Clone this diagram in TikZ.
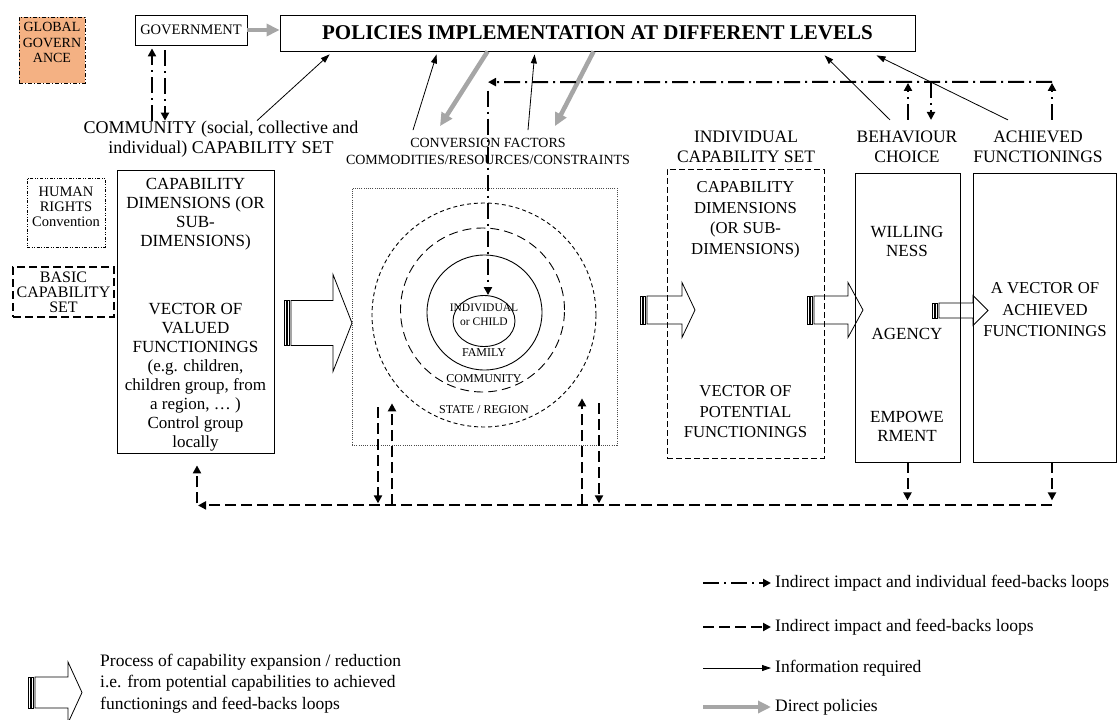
\documentclass[tikz,border=0pt]{standalone}
\usepackage{fontspec}
\setmainfont{Liberation Serif}
\usetikzlibrary{arrows.meta, positioning, shapes.geometric}
\definecolor{govorange}{HTML}{F4B183}
\definecolor{policygray}{HTML}{A6A6A6}

% striped hollow arrow: tail x, head base x, tip x, centre y, half shaft, half head
\newcommand{\capflow}[6]{%
  \draw[flow] (#1,{#4-#5}) rectangle ({#1+2},{#4+#5});
  \draw[flow] ({#1+3.5},{#4-#5}) rectangle ({#1+5.5},{#4+#5});
  \draw[flow] ({#1+7},{#4-#5}) -- (#2,{#4-#5}) -- (#2,{#4-#6}) -- (#3,#4)
    -- (#2,{#4+#6}) -- (#2,{#4+#5}) -- ({#1+7},{#4+#5}) -- cycle;
}

\begin{document}
\begin{tikzpicture}[x=1pt, y=-1pt,
  every node/.style={inner sep=0pt, align=center},
  boxframe/.style={rectangle, draw, line width=0.8pt},
  toplabel/.style={font=\fontsize{17.5}{20}\selectfont},
  boxtext/.style={font=\fontsize{17}{19}\selectfont},
  ringlabel/.style={font=\fontsize{12}{14}\selectfont},
  legendtext/.style={anchor=west, align=left, font=\fontsize{17.5}{21.5}\selectfont},
  policy/.style={draw=policygray, line width=4.5pt, -{Triangle[length=13pt,width=12pt]}},
  info/.style={line width=0.8pt, -{Triangle[length=9pt,width=6pt]}},
  indirect/.style={line width=2pt, dash pattern=on 16pt off 5pt on 2pt off 5pt, -{Triangle[length=8pt,width=8pt]}},
  feedback/.style={line width=2pt, dash pattern=on 11pt off 5pt, -{Triangle[length=8pt,width=8pt]}},
  flow/.style={draw, fill=white, line width=0.8pt, line join=miter},
  ring/.style={circle, draw, line width=0.9pt},
]
\useasboundingbox (0,0) rectangle (1117,720);

% Governance and policies
\node[boxframe, fill=govorange, line width=0.7pt, dash pattern=on 4pt off 2pt on 1pt off 2pt, minimum width=66pt, minimum height=66pt] (global) at (52,50) {};
\node[font=\fontsize{14}{15.5}\selectfont] (globaltxt) at (52,42.5) {GLOBAL\\GOVERN\\ANCE};
\node[boxframe, minimum width=112pt, minimum height=30pt, font=\fontsize{14.5}{16}\selectfont] (gov) at (191,30) {GOVERNMENT};
\node[boxframe, minimum width=635pt, minimum height=36pt, font=\bfseries\fontsize{21}{24}\selectfont] (policies) at (597.5,33) {POLICIES IMPLEMENTATION AT DIFFERENT LEVELS};
\draw[policy] (gov.east) -- (gov.east -| policies.west);

% Community
\node[font=\fontsize{18}{20}\selectfont] (community) at (221,139) {COMMUNITY (social, collective and\\individual) CAPABILITY SET};
\draw[indirect] ([xshift=-69pt]community.north) -- ([xshift=-39pt,yshift=-3pt]gov.south);
\draw[indirect] ([xshift=-26pt,yshift=-5pt]gov.south) -- ([xshift=-56pt]community.north);
\draw[info] ([xshift=36pt]community.north) -- ([xshift=50pt,yshift=-3pt]policies.south west);

% Conversion factors
\node[font=\fontsize{14}{17}\selectfont] (conversion) at (488,151.5) {CONVERSION FACTORS\\COMMODITIES/RESOURCES/CONSTRAINTS};
\draw[info] ([xshift=-75pt,yshift=8pt]conversion.north) -- ([xshift=157pt,yshift=-3pt]policies.south west);
\draw[info] ([xshift=40pt,yshift=8pt]conversion.north) -- ([xshift=255pt,yshift=-3pt]policies.south west);
\draw[policy] ([xshift=208pt]policies.south west) -- ([xshift=-48pt,yshift=12pt]conversion.north);
\draw[policy] ([xshift=314pt]policies.south west) -- ([xshift=67pt,yshift=12pt]conversion.north);

% Top labels
\node[toplabel] (indlabel) at (746,147) {INDIVIDUAL\\CAPABILITY SET};
\node[toplabel] (choice) at (907,147) {BEHAVIOUR\\CHOICE};
\node[toplabel] (achieved) at (1038,147) {ACHIEVED\\FUNCTIONINGS};
\draw[info] ([xshift=-17pt,yshift=11pt]choice.north) -- ([xshift=545pt,yshift=-4pt]policies.south west);
\draw[info] ([xshift=-30pt,yshift=11pt]achieved.north) -- ([xshift=597pt,yshift=-4pt]policies.south west);

% Left boxes
\node[boxframe, line width=0.6pt, dash pattern=on 3pt off 1.5pt on 1pt off 1.5pt on 1pt off 1.5pt, minimum width=78pt, minimum height=69pt] (rights) at (66,212.5) {};
\node[font=\fontsize{14.5}{15}\selectfont] (rightstxt) at (66,207) {HUMAN\\RIGHTS\\Convention};
\node[boxframe, line width=2.5pt, dash pattern=on 8pt off 4pt, minimum width=101pt, minimum height=50pt, font=\fontsize{16}{15}\selectfont] (basic) at (63.5,292) {BASIC\\CAPABILITY\\SET};
\node[boxframe, minimum width=157pt, minimum height=283pt] (capleft) at (195.5,311.5) {};
\node[boxtext] (caplefttxt) at (195.5,315) {CAPABILITY\\DIMENSIONS (OR\\SUB-\\DIMENSIONS)\\[49pt]VECTOR OF\\VALUED\\FUNCTIONINGS\\(e.g. children,\\children group, from\\a region, … )\\Control group\\locally};

% Process arrows
\capflow{284}{333}{352}{323}{22.5}{48.5}
\capflow{640}{682}{695}{310}{14}{27.5}
\capflow{807}{848}{863}{310}{14}{27.5}
\capflow{932}{973}{988}{310.5}{7.5}{15}

% Levels
\node[draw=black!70, line width=0.7pt, dash pattern=on 1pt off 1.2pt, minimum width=265pt, minimum height=257pt] (levels) at (484.5,316.5) {};
\node[ring, dash pattern=on 4pt off 3pt, minimum size=224pt] (statering) at (484,315) {};
\node[ring, dash pattern=on 9pt off 5pt, minimum size=164pt] (commring) at (482.5,310) {};
\node[ring, minimum size=115pt] (familyring) at (484.5,312.5) {};
\node[ellipse, draw, line width=0.9pt, minimum width=62pt, minimum height=51pt] (child) at (484,321) {};
\node[ringlabel, font=\fontsize{11.5}{14}\selectfont] (childlbl) at (484,315) {INDIVIDUAL\\or CHILD};
\node[ringlabel] (familylbl) at (484,353) {FAMILY};
\node[ringlabel] (commlbl) at (484,379) {COMMUNITY};
\node[ringlabel] (statelbl) at (484,410) {STATE / REGION};

% Right boxes
\node[boxframe, dash pattern=on 6pt off 3pt, minimum width=157pt, minimum height=289pt] (indcap) at (745.5,313.5) {};
\node[font=\fontsize{16.7}{20.5}\selectfont] (indcaptxt) at (745.5,310) {CAPABILITY\\DIMENSIONS\\(OR SUB-\\DIMENSIONS)\\[122pt]VECTOR OF\\POTENTIAL\\FUNCTIONINGS};
\node[boxframe, minimum width=105pt, minimum height=289pt] (behav) at (907.5,317.5) {};
\node[boxtext] (behavtxt) at (907,333.5) {WILLING\\NESS\\[64pt]AGENCY\\[64pt]EMPOWE\\RMENT};
\node[boxframe, minimum width=143pt, minimum height=289pt] (achbox) at (1044.5,317.5) {};
\node[font=\fontsize{16.7}{21.5}\selectfont] (achtxt) at (1045,310) {A VECTOR OF\\ACHIEVED\\FUNCTIONINGS};

% Individual feed-back loop
\draw[indirect] ([xshift=14pt,yshift=11pt]achieved.north) -- ([xshift=14pt,yshift=48pt]achieved.north);
\draw[indirect] ([xshift=1pt,yshift=11pt]choice.north) -- ([xshift=1pt,yshift=48pt]choice.north);
\draw[indirect] ([xshift=24pt,yshift=49pt]choice.north) -- ([xshift=24pt,yshift=11pt]choice.north);
\draw[indirect] ([xshift=14pt,yshift=49pt]achieved.north) -- ([yshift=56pt]conversion.north);
\draw[indirect] ([yshift=47.5pt]conversion.north) -- (conversion.north |- child.north);

% Feed-back loop
\draw[feedback] ([xshift=1.5pt,yshift=-50pt]capleft.south) -- ([xshift=1.5pt,yshift=-12pt]capleft.south);
\draw[feedback] ([xshift=7.5pt,yshift=-43pt]achbox.south) -- ([xshift=2.5pt,yshift=-52pt]capleft.south);
\draw[feedback] (behav.south) -- ([yshift=-38pt]behav.south);
\draw[feedback] ([xshift=7.5pt]achbox.south) -- ([xshift=7.5pt,yshift=-38pt]achbox.south);
\draw[feedback] ([xshift=-106.5pt,yshift=38pt]levels.south) -- ([xshift=-106.5pt,yshift=-58pt]levels.south);
\draw[feedback] ([xshift=-92.5pt,yshift=-60pt]levels.south) -- ([xshift=-92.5pt,yshift=42pt]levels.south);
\draw[feedback] ([xshift=97.5pt,yshift=-60pt]levels.south) -- ([xshift=97.5pt,yshift=47pt]levels.south);
\draw[feedback] ([xshift=114.5pt,yshift=42pt]levels.south) -- ([xshift=114.5pt,yshift=-58pt]levels.south);

% Legend
\capflow{28}{68}{82}{692.5}{15.5}{30.5}
\node[legendtext] (legflow) at (100,683.5) {Process of capability expansion / reduction\\i.e. from potential capabilities to achieved\\functionings and feed-backs loops};
\node[legendtext] (legindirect) at (775,583) {Indirect impact and individual feed-backs loops};
\node[legendtext] (legfeedback) at (775,627) {Indirect impact and feed-backs loops};
\node[legendtext] (leginfo) at (775,668) {Information required};
\node[legendtext] (legpolicy) at (775,707) {Direct policies};
\draw[indirect] ([xshift=-72pt]legindirect.west) -- ([xshift=-4pt]legindirect.west);
\draw[feedback] ([xshift=-72pt]legfeedback.west) -- ([xshift=-4pt]legfeedback.west);
\draw[info] ([xshift=-72pt]leginfo.west) -- ([xshift=-4pt]leginfo.west);
\draw[policy] ([xshift=-72pt]legpolicy.west) -- ([xshift=-4pt]legpolicy.west);
\end{tikzpicture}
\end{document}
